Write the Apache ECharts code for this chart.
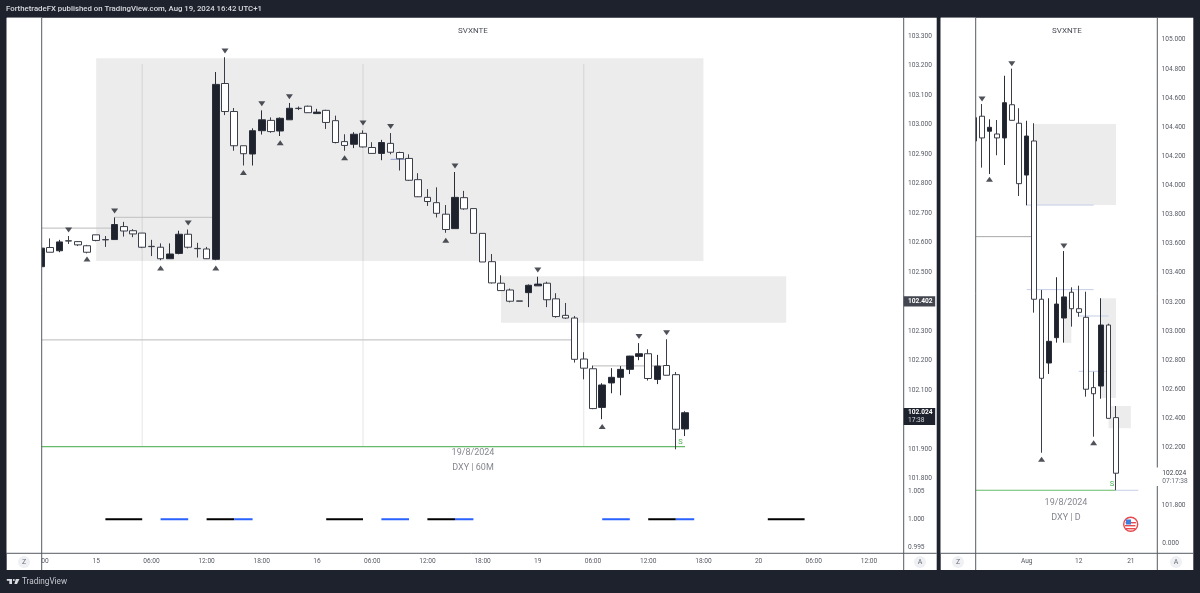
<!DOCTYPE html>
<html><head><meta charset="utf-8">
<style>html,body{margin:0;padding:0;background:#1e222d}#c{width:1200px;height:593px}</style>
<script src="https://cdn.jsdelivr.net/npm/echarts@6/dist/echarts.min.js"></script>
</head><body><div id="c"></div>
<script>
// ---------- 60M chart: [open, close, low, high] per hourly bar, index 0 = 14 Aug 18:00
const ltfCandles = [
[102.519,102.582,102.519,102.582],[102.584,102.568,102.568,102.615],[102.573,102.603,102.568,102.610],[102.607,102.606,102.596,102.623],
[102.604,102.593,102.589,102.605],[102.590,102.568,102.564,102.593],[102.627,102.608,102.605,102.627],[102.611,102.610,102.586,102.623],
[102.611,102.662,102.611,102.686],[102.655,102.640,102.621,102.671],[102.641,102.630,102.619,102.646],[102.633,102.585,102.582,102.633],
[102.588,102.587,102.555,102.610],[102.585,102.546,102.541,102.598],[102.546,102.562,102.545,102.598],[102.564,102.629,102.561,102.641],
[102.629,102.585,102.581,102.645],[102.581,102.580,102.550,102.600],[102.579,102.546,102.545,102.586],[102.544,103.137,102.541,103.179],
[103.140,103.045,103.033,103.229],[103.045,102.929,102.912,103.057],[102.929,102.902,102.862,102.929],[102.901,102.980,102.862,102.988],
[102.980,103.017,102.967,103.049],[103.015,102.977,102.973,103.025],[102.979,103.022,102.962,103.025],[103.017,103.056,103.017,103.074],
[103.056,103.055,103.050,103.062],[103.063,103.041,103.040,103.065],[103.038,103.043,103.037,103.054],[103.049,103.008,102.986,103.051],
[103.014,102.940,102.937,103.031],[102.943,102.930,102.912,102.968],[102.934,102.968,102.921,102.975],[102.971,102.925,102.923,102.981],
[102.923,102.903,102.902,102.941],[102.903,102.940,102.880,102.949],[102.937,102.907,102.900,102.972],[102.906,102.885,102.845,102.909],
[102.886,102.812,102.810,102.900],[102.814,102.756,102.755,102.836],[102.754,102.740,102.725,102.782],[102.736,102.700,102.686,102.788],
[102.697,102.645,102.634,102.728],[102.648,102.754,102.648,102.840],[102.753,102.715,102.712,102.776],[102.716,102.632,102.632,102.716],
[102.632,102.535,102.535,102.632],[102.536,102.464,102.462,102.562],[102.463,102.438,102.438,102.490],[102.440,102.402,102.398,102.445],
[102.403,102.402,102.402,102.403],[102.431,102.456,102.382,102.459],[102.454,102.460,102.454,102.485],[102.463,102.407,102.382,102.468],
[102.410,102.350,102.346,102.429],[102.354,102.345,102.342,102.396],[102.345,102.205,102.194,102.352],[102.206,102.175,102.137,102.229],
[102.173,102.038,102.036,102.184],[102.042,102.118,102.002,102.124],[102.125,102.144,102.090,102.175],[102.144,102.171,102.083,102.182],
[102.171,102.216,102.155,102.217],[102.215,102.224,102.202,102.260],[102.224,102.140,102.133,102.239],[102.137,102.182,102.121,102.220],
[102.184,102.151,102.151,102.273],[102.153,101.968,101.900,102.162],[101.969,102.024,101.945,102.029]
];
const ltfMarksDown = [[3,102.643],[8,102.708],[16,102.667],[20,103.250],[24,103.071],[27,103.095],[35,103.006],[38,102.994],[45,102.860],[54,102.508],[65,102.282],[68,102.295]];
const ltfMarksUp = [[5,102.545],[13,102.515],[19,102.515],[22,102.838],[26,102.939],[33,102.888],[44,102.609],[61,101.977]];
const ltfZones = [[6,72,103.226,102.538],[50,81,102.487,102.329]];
const ltfGrayLevels = [[0,8,102.650],[8,19,102.686],[0,58,102.271],[60,68,102.183]];
const ltfGreenLevels = [[0,70,101.909]];
const ltfBlueLevels = [[38,40,102.883]];
const ltfSessions = [11,35,59];
const ltfSessionRange = [101.908,103.206];
const killBlack = [[7,11],[18,21],[31,35],[42,45],[66,69],[79,83]];
const killBlue = [[13,16],[21,23],[37,40],[45,47],[61,64],[69,71]];
const ltfTickLabels = ['', '15','06:00','12:00','18:00','16','06:00','12:00','18:00','19','06:00','12:00','18:00','20','06:00','12:00'];

// ---------- Daily chart
const htfCandles = [
[104.305,104.465,104.305,104.465],[104.475,104.326,104.122,104.559],[104.372,104.399,104.078,104.454],[104.353,104.326,104.207,104.449],
[104.326,104.568,104.140,104.753],[104.554,104.447,104.447,104.802],[104.427,104.012,103.927,104.530],[104.071,104.339,103.863,104.444],
[104.305,103.218,103.126,104.427],[103.218,102.675,102.164,103.282],[102.780,102.929,102.705,103.225],[102.954,103.185,102.920,103.369],
[103.089,103.234,102.920,103.549],[103.266,103.153,103.030,103.300],[103.153,103.128,103.098,103.311],[103.094,102.600,102.549,103.270],
[102.611,102.569,102.274,102.720],[102.622,103.041,102.535,103.225],[103.041,102.400,102.400,103.050],[102.405,102.023,101.908,102.485]
];
const htfMarksDown = [[1,104.593],[5,104.836],[12,103.584]];
const htfMarksUp = [[2,104.042],[9,102.119],[16,102.233]];
const htfZones = [[8,19,104.422,103.865],[17,19,103.225,102.540],[12,13,103.213,102.918],[18,21,102.485,102.332]];
const htfGrayLevels = [[0,8,103.648]];
const htfBlueLevels = [[7,16,103.865],[7,16,103.284],[14,18,103.103],[14,18,102.723],[19,22,101.906]];
const htfGreenLevels = [[0,19,101.906]];
const htfTickLabels = {7:'Aug',14:'12',21:'21'};

const title = 'SVXNTE';
const header = 'ForthetradeFX published on TradingView.com, Aug 19, 2024 16:42 UTC+1';
const lastPrice = 102.024, prevLevel = 102.402;

// ---------- styling
const DARK='#1e222d', FONT='Roboto, "Liberation Sans", sans-serif', AX='#565a63', TXT='#555963';
const LX=41, LR=903.7, BAR=9.2, RX=974.6, RR=1157.3, RBAR=7.44;

function withIndex(list){return list.map((c,i)=>[i,c[0],c[1],c[2],c[3]]);}
function segs(list){const o=[];list.forEach(s=>{o.push([s[0],s[2]],[s[1],s[2]],[s[1],'-']);});return o;}
function kz(list){const o=[];list.forEach(s=>{o.push([s[0],1],[s[1],1],[s[1],'-']);});return o;}
function lineS(data,color,width,g,z){return {type:'line',data,xAxisIndex:g,yAxisIndex:g,symbol:'none',silent:true,connectNulls:false,z:z||1.5,
  lineStyle:{color,width},animation:false};}
function candle(data,g,w,zones){return {type:'candlestick',data:withIndex(data),encode:{x:0,y:[1,2,3,4]},xAxisIndex:g,yAxisIndex:g,barWidth:w,silent:true,z:3,
  itemStyle:{color:DARK,color0:'#ffffff',borderColor:'#2a2e39',borderColor0:'#3a3e49',borderColorDoji:'#2a2e39',borderWidth:1},
  markArea:{silent:true,z:1,itemStyle:{color:'#ececec'},data:zones.map(r=>[{coord:[r[0],r[2]]},{coord:[r[1],r[3]]}])}};}
function marks(data,g,down){return {type:'scatter',data,xAxisIndex:g,yAxisIndex:g,symbol:'triangle',symbolRotate:down?180:0,symbolSize:[7,5],silent:true,z:4,itemStyle:{color:'#23262f'}};}

const sessionLines=[];ltfSessions.forEach(h=>{sessionLines.push([h,ltfSessionRange[0]],[h,ltfSessionRange[1]],[h,'-']);});

const yLabel=(hide)=>({color:TXT,fontSize:6.6,fontFamily:FONT,margin:4.3,formatter:v=>hide.some(h=>Math.abs(h-v)<1e-6)?'':v.toFixed(3)});
const xLabel=(fn)=>({color:TXT,fontSize:6.6,fontFamily:FONT,margin:5,showMinLabel:true,showMaxLabel:true,formatter:fn});

const option={
  backgroundColor:DARK,animation:false,
  grid:[
    {left:LX,width:LR-LX,top:36.3,height:442.5},
    {left:LX,width:LR-LX,top:491.5,height:55.5},
    {left:RX,width:RR-RX,top:39.8,height:465.9}
  ],
  xAxis:[
    {type:'value',gridIndex:0,min:0,max:(LR-LX)/BAR,interval:6,offset:74.5,splitLine:{show:false},axisTick:{show:false},axisLine:{show:false},
      axisLabel:xLabel(v=>Number.isInteger(v/6)?(ltfTickLabels[v/6]||''):'')},
    {type:'value',gridIndex:1,min:0,max:(LR-LX)/BAR,show:false},
    {type:'value',gridIndex:2,min:0,max:(RR-RX)/RBAR,interval:7,offset:47.6,splitLine:{show:false},axisTick:{show:false},axisLine:{show:false},
      axisLabel:xLabel(v=>htfTickLabels[v]||'')}
  ],
  yAxis:[
    {type:'value',gridIndex:0,position:'right',min:101.8,max:103.3,interval:0.1,splitLine:{show:false},axisTick:{show:false},axisLine:{show:false},axisLabel:yLabel([102.0,102.4])},
    {type:'value',gridIndex:1,position:'right',min:0.995,max:1.005,interval:0.005,splitLine:{show:false},axisTick:{show:false},axisLine:{show:false},axisLabel:yLabel([])},
    {type:'value',gridIndex:2,position:'right',min:101.8,max:105,interval:0.2,splitLine:{show:false},axisTick:{show:false},axisLine:{show:false},axisLabel:yLabel([102.0])}
  ],
  series:[
    lineS(sessionLines,'rgba(0,0,0,0.10)',1,0),
    lineS(segs(ltfGrayLevels),'#c8c8c8',1.2,0),
    lineS(segs(ltfGreenLevels),'#66bb6a',1.2,0),
    lineS(segs(ltfBlueLevels),'#8a9ccf',1,0),
    candle(ltfCandles,0,7,ltfZones),
    marks(ltfMarksDown,0,true),marks(ltfMarksUp,0,false),
    lineS(kz(killBlack),'#000000',2,1),
    lineS(kz(killBlue),'#2962ff',2,1),
    lineS(segs(htfGrayLevels),'#a8a8a8',1,2),
    lineS(segs(htfBlueLevels),'#c5cee8',1,2),
    lineS(segs(htfGreenLevels),'#66bb6a',1.2,2),
    candle(htfCandles,2,5,htfZones),
    marks(htfMarksDown,2,true),marks(htfMarksUp,2,false)
  ]
};
const chart=echarts.init(document.getElementById('c'),null,{renderer:'canvas'});
chart.setOption(option);

// ---------- chrome, drawn after the scales exist
function rect(x,y,w,h,fill,z){return {type:'rect',silent:true,z:z,shape:{x,y,width:w,height:h},style:{fill}};}
function vline(x,y1,y2,color,w,z){return {type:'line',silent:true,z:z||10,shape:{x1:x,y1,x2:x,y2},style:{stroke:color,lineWidth:w||1}};}
function hline(x1,x2,y,color,w,z){return {type:'line',silent:true,z:z||10,shape:{x1,y1:y,x2,y2:y},style:{stroke:color,lineWidth:w||1}};}
function text(t,x,y,size,fill,align,weight,z){return {type:'text',silent:true,z:z||20,x,y,style:{text:t,fill,font:(weight||'normal')+' '+size+'px '+FONT,textAlign:align||'left',textVerticalAlign:'middle'}};}
function circleBtn(t,x,y){return [{type:'circle',silent:true,z:12,shape:{cx:x,cy:y,r:6},style:{fill:'#eef0f4'}},text(t,x,y,7,'#6a6d78','center')];}

const yL=chart.convertToPixel({yAxisIndex:0},lastPrice), yP=chart.convertToPixel({yAxisIndex:0},prevLevel), yR=chart.convertToPixel({yAxisIndex:2},lastPrice);
const sX=chart.convertToPixel({xAxisIndex:0},69.5), sY=chart.convertToPixel({yAxisIndex:0},101.925);
const sX2=chart.convertToPixel({xAxisIndex:2},18.45), sY2=chart.convertToPixel({yAxisIndex:2},101.945);

const els=[
  rect(6.7,17.7,930,552.3,'#ffffff',-2),
  rect(940.7,17.7,252.6,552.3,'#ffffff',-2),
  rect(6.7,17.7,35,535,'#ffffff',8),
  rect(940.7,17.7,35,535,'#ffffff',8),
  text(header,6,9.2,7.8,'#d9dbe0','left','500'),
  vline(41.7,17.7,570,AX),vline(903.7,17.7,570,AX),vline(975.7,17.7,570,AX),vline(1157.3,17.7,570,AX),
  hline(6.7,936.7,553.3,AX),hline(940.7,1193.3,553.3,AX),
  text(title,473,31,8,'#4a4d57','center'),text(title,1067,31,8,'#4a4d57','center'),
  text('19/8/2024',473,453,9,'#85888f','center'),text('DXY | 60M',473,468,9,'#85888f','center'),
  text('19/8/2024',1066,502.7,9,'#85888f','center'),text('DXY | D',1066,518,9,'#85888f','center'),
  text('S',sX,sY,7.5,'#4caf50','center'),text('S',sX2,sY2,7.5,'#4caf50','center'),
  text('00',45,561.7,6.6,TXT,'center'),
  text('0.000',1162.3,543,6.6,TXT,'left'),
  rect(903.7,yP-5,31.5,10.3,'#43464f',30),
  text(prevLevel.toFixed(3),908,yP,6.6,'#ffffff','left','bold',31),
  rect(903.7,yL-4.7,31.5,17,DARK,30),
  text(lastPrice.toFixed(3),908,yL,6.6,'#ffffff','left','bold',31),
  text('17:38',908,yL+7.7,6.6,'#d5d7dc','left','normal',31),
  rect(1156,yR-5.5,37,18.5,'#ffffff',30),
  text(lastPrice.toFixed(3),1162.3,yR,6.6,'#3c3f48','left','normal',31),
  text('07:17:38',1162.3,yR+8,6.6,'#6a6d78','left','normal',31),
  ...circleBtn('Z',24,562),...circleBtn('A',920,562),...circleBtn('Z',958,562),...circleBtn('A',1176,562),
  // US flag badge
  {type:'circle',silent:true,z:12,shape:{cx:1130.7,cy:524.3,r:7},style:{fill:'#ffffff',stroke:'#e5484d',lineWidth:1.4}},
  rect(1125.5,522,10.4,1.4,'#e5484d',13),rect(1125,525,10.4,1.4,'#e5484d',13),rect(1126,528,9.4,1.4,'#e5484d',13),
  rect(1126,519.5,5,5,'#3d7fe0',14),
  // TradingView logo + word
  rect(6.8,579,5.2,1.8,'#d9dbe0',20),rect(9.3,579,2.7,5,'#d9dbe0',20),
  {type:'circle',silent:true,z:20,shape:{cx:13.8,cy:580,r:1},style:{fill:'#d9dbe0'}},
  {type:'polygon',silent:true,z:20,shape:{points:[[15.8,579],[19.5,579],[17,584],[14.4,584]]},style:{fill:'#d9dbe0'}},
  text('TradingView',22,581.5,8.2,'#c5c8cf','left')
];
chart.setOption({graphic:{elements:els}});
</script></body></html>
